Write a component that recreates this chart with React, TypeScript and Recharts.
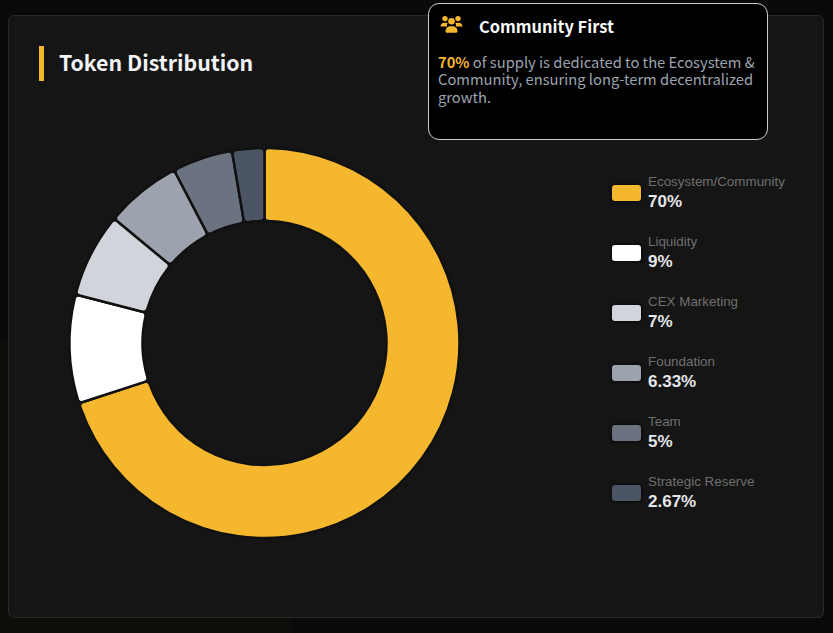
import { PieChart, Pie, Cell } from 'recharts';

const names = ['Ecosystem/Community', 'Liquidity', 'CEX Marketing', 'Foundation', 'Team', 'Strategic Reserve'];
const shares = [70, 9, 7, 6.33, 5, 2.67];
const colors = ['#F4B72E', '#FFFFFF', '#D1D5DB', '#9CA3AF', '#6B7280', '#4B5563'];

const data = names.map((name, i) => ({ name, value: shares[i] }));

const uiFont = '"Noto Sans CJK SC", "Noto Sans", sans-serif';

const SideLegend = () => (
  <div style={{ position: 'absolute', left: 612, top: 174, width: 210 }}>
    {names.map((name, i) => (
      <div key={name} style={{ position: 'relative', height: 60 }}>
        <div style={{ position: 'absolute', left: 0, top: 11, width: 29, height: 16, background: colors[i], borderRadius: 3, boxShadow: '0 0 3px 1px #0a0a0a' }} />
        <div style={{ position: 'absolute', left: 36, top: 0, fontFamily: 'Liberation Sans', fontSize: 13.4, lineHeight: '16px', color: '#6f6f6f', whiteSpace: 'nowrap' }}>{name}</div>
        <div style={{ position: 'absolute', left: 36, top: 18, fontFamily: 'Liberation Sans', fontSize: 17, lineHeight: '20px', fontWeight: 700, color: '#e5e7eb' }}>{shares[i]}%</div>
      </div>
    ))}
  </div>
);

const UsersIcon = () => (
  <svg width={23} height={19} viewBox="0 0 23 19" style={{ position: 'absolute', left: 11, top: 11 }}>
    <g fill="#F4B72E">
      <circle cx={5} cy={3.6} r={2.7} />
      <circle cx={18} cy={3.6} r={2.7} />
      <circle cx={11.5} cy={6.2} r={3.3} />
      <path d="M0.5 11.5c0-2.4 1.6-3.8 3.6-3.8h2.2c.5 0 1 .1 1.3.3-.6 1-.8 2.1-.6 3.5H0.5z" />
      <path d="M22.5 11.5c0-2.4-1.6-3.8-3.6-3.8h-2.2c-.5 0-1 .1-1.3.3.6 1 .8 2.1.6 3.5h6.5z" />
      <path d="M5.5 16.5c0-3 2-5.3 4.4-5.3h3.2c2.4 0 4.4 2.3 4.4 5.3 0 .7-.5 1.2-1.2 1.2H6.7c-.7 0-1.2-.5-1.2-1.2z" />
    </g>
  </svg>
);

export default function App() {
  return (
    <div style={{ position: 'fixed', left: 0, top: 0, width: 833, height: 633, background: '#0a0a0a', overflow: 'hidden', fontFamily: uiFont }}>
      <div style={{ position: 'absolute', left: 0, top: 340, width: 291, height: 293, background: '#0e0d09' }} />
      <div style={{ position: 'absolute', left: 8, top: 15, width: 814, height: 601, background: '#151515', border: '1px solid #2a2a2a', borderRadius: 6, boxSizing: 'content-box' }} />
      <div style={{ position: 'absolute', left: 39, top: 46, width: 5, height: 35, background: '#F4B72E' }} />
      <div style={{ position: 'absolute', left: 59, top: 45, fontSize: 21.3, fontWeight: 700, lineHeight: '34px', color: '#f3f4f6' }}>Token Distribution</div>

      <div style={{ position: 'absolute', left: 0, top: 0 }}>
        <PieChart width={833} height={633} margin={{ top: 0, right: 0, bottom: 0, left: 0 }}>
          <Pie
            data={data}
            dataKey="value"
            nameKey="name"
            cx={264.5}
            cy={343}
            innerRadius={122}
            outerRadius={195}
            startAngle={90}
            endAngle={-270}
            paddingAngle={0}
            cornerRadius={4}
            stroke="#111111"
            strokeWidth={2.5}
            isAnimationActive={false}
          >
            {data.map((d, i) => (
              <Cell key={d.name} fill={colors[i]} />
            ))}
          </Pie>
        </PieChart>
      </div>

      <SideLegend />

      <div style={{ position: 'absolute', left: 428, top: 3, width: 338, height: 135, background: '#000', border: '1px solid #c9c9c9', borderRadius: 11 }}>
        <UsersIcon />
        <div style={{ position: 'absolute', left: 50, top: 10, fontSize: 16.4, fontWeight: 700, lineHeight: '24px', color: '#f9fafb' }}>Community First</div>
        <div style={{ position: 'absolute', left: 9, top: 48.5, width: 325, fontSize: 14.73, lineHeight: '17.5px', color: '#9ca3af' }}>
          <span style={{ color: '#F4B72E', fontWeight: 700 }}>70%</span> of supply is dedicated to the Ecosystem &amp; Community, ensuring long-term decentralized growth.
        </div>
      </div>
    </div>
  );
}
